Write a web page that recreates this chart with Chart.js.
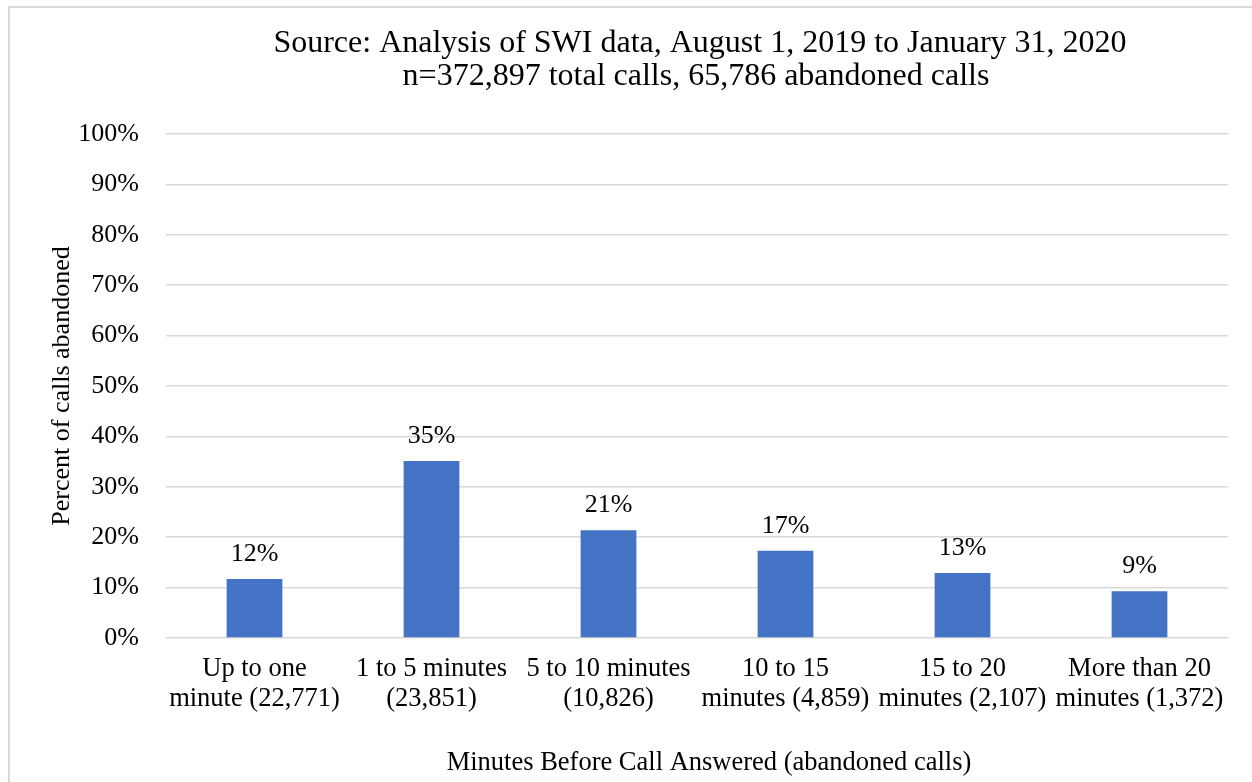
<!DOCTYPE html>
<html>
<head>
<meta charset="utf-8">
<script src="https://cdn.jsdelivr.net/npm/chart.js@4.4.1/dist/chart.umd.min.js"></script>
<style>
    html, body { margin: 0; padding: 0; background: #fff; }
    #frame { position: absolute; left: 8px; top: 6px; width: 1300px; height: 900px; border: 2px solid #d9d9d9; box-sizing: border-box; }
    #wrap { position: absolute; left: 0; top: 0; width: 1252px; height: 782px; }
</style>
</head>
<body>
<div id="frame"></div>
<div id="wrap"><canvas id="chart-abandoned"></canvas></div>
<script>
    "use strict";

    // Data
    var categories = [
        ['Up to one', 'minute (22,771)'],
        ['1 to 5 minutes', '(23,851)'],
        ['5 to 10 minutes', '(10,826)'],
        ['10 to 15', 'minutes (4,859)'],
        ['15 to 20', 'minutes (2,107)'],
        ['More than 20', 'minutes (1,372)']
    ];
    var abandonedPct = [11.7, 35.1, 21.4, 17.3, 12.9, 9.3];
    var titleLines = [
        'Source: Analysis of SWI data, August 1, 2019 to January 31, 2020',
        'n=372,897 total calls, 65,786 abandoned calls'
    ];
    var yTitle = 'Percent of calls abandoned';
    var xTitle = 'Minutes Before Call Answered (abandoned calls)';

    var serif = '"Liberation Serif", "Times New Roman", serif';
    Chart.defaults.font.family = serif;
    Chart.defaults.color = '#000';

    // bar value labels, two-line heading, x axis title
    var extras = {
        id: 'extras',
        afterDatasetsDraw: function(chart) {
            var ctx = chart.ctx;
            var meta = chart.getDatasetMeta(0);
            ctx.save();
            ctx.font = '26px ' + serif;
            ctx.fillStyle = '#000';
            ctx.textAlign = 'center';
            ctx.textBaseline = 'alphabetic';
            meta.data.forEach(function(bar, i) {
                ctx.fillText(Math.round(abandonedPct[i]) + '%', bar.x, bar.y - 18);
            });
            ctx.restore();
        },
        afterDraw: function(chart) {
            var ctx = chart.ctx;
            var area = chart.chartArea;
            var cx = (area.left + area.right) / 2;
            ctx.save();
            ctx.fillStyle = '#000';
            ctx.textAlign = 'center';
            ctx.textBaseline = 'alphabetic';
            ctx.font = '32px ' + serif;
            ctx.fillText(titleLines[0], cx + 3, 52);
            ctx.fillText(titleLines[1], cx - 1, 85);
            ctx.font = '26.5px ' + serif;
            ctx.fillText(xTitle, cx + 12, 770);
            ctx.restore();
        }
    };

    var canvas = document.getElementById('chart-abandoned').getContext('2d');

    new Chart(canvas, {
        type: 'bar',
        data: {
            labels: categories,
            datasets: [{
                label: 'Abandoned',
                backgroundColor: '#4472C4',
                borderWidth: 0,
                barPercentage: 0.315,
                categoryPercentage: 1,
                data: abandonedPct
            }]
        },
        options: {
            responsive: true,
            maintainAspectRatio: false,
            animation: false,
            layout: { padding: { left: 0, right: 24, top: 134, bottom: 0 } },
            plugins: {
                legend: { display: false },
                tooltip: { enabled: false }
            },
            scales: {
                x: {
                    grid: { display: false, drawTicks: false },
                    border: { display: false },
                    ticks: {
                        padding: 16,
                        maxRotation: 0,
                        autoSkip: false,
                        font: { size: 26.5, lineHeight: 30 / 26.5 }
                    },
                    afterFit: function(scale) { scale.height = 144; }
                },
                y: {
                    min: 0,
                    max: 100,
                    grid: { color: '#d9d9d9', lineWidth: 1.5, drawTicks: false },
                    border: { display: false },
                    ticks: {
                        stepSize: 10,
                        padding: 27,
                        font: { size: 26 },
                        callback: function(v) { return v + '%'; }
                    },
                    title: {
                        display: true,
                        text: yTitle,
                        font: { size: 26 },
                        padding: { top: 47, bottom: 0 }
                    },
                    afterFit: function(scale) { scale.width = 166; }
                }
            }
        },
        plugins: [extras]
    });
</script>
</body>
</html>
